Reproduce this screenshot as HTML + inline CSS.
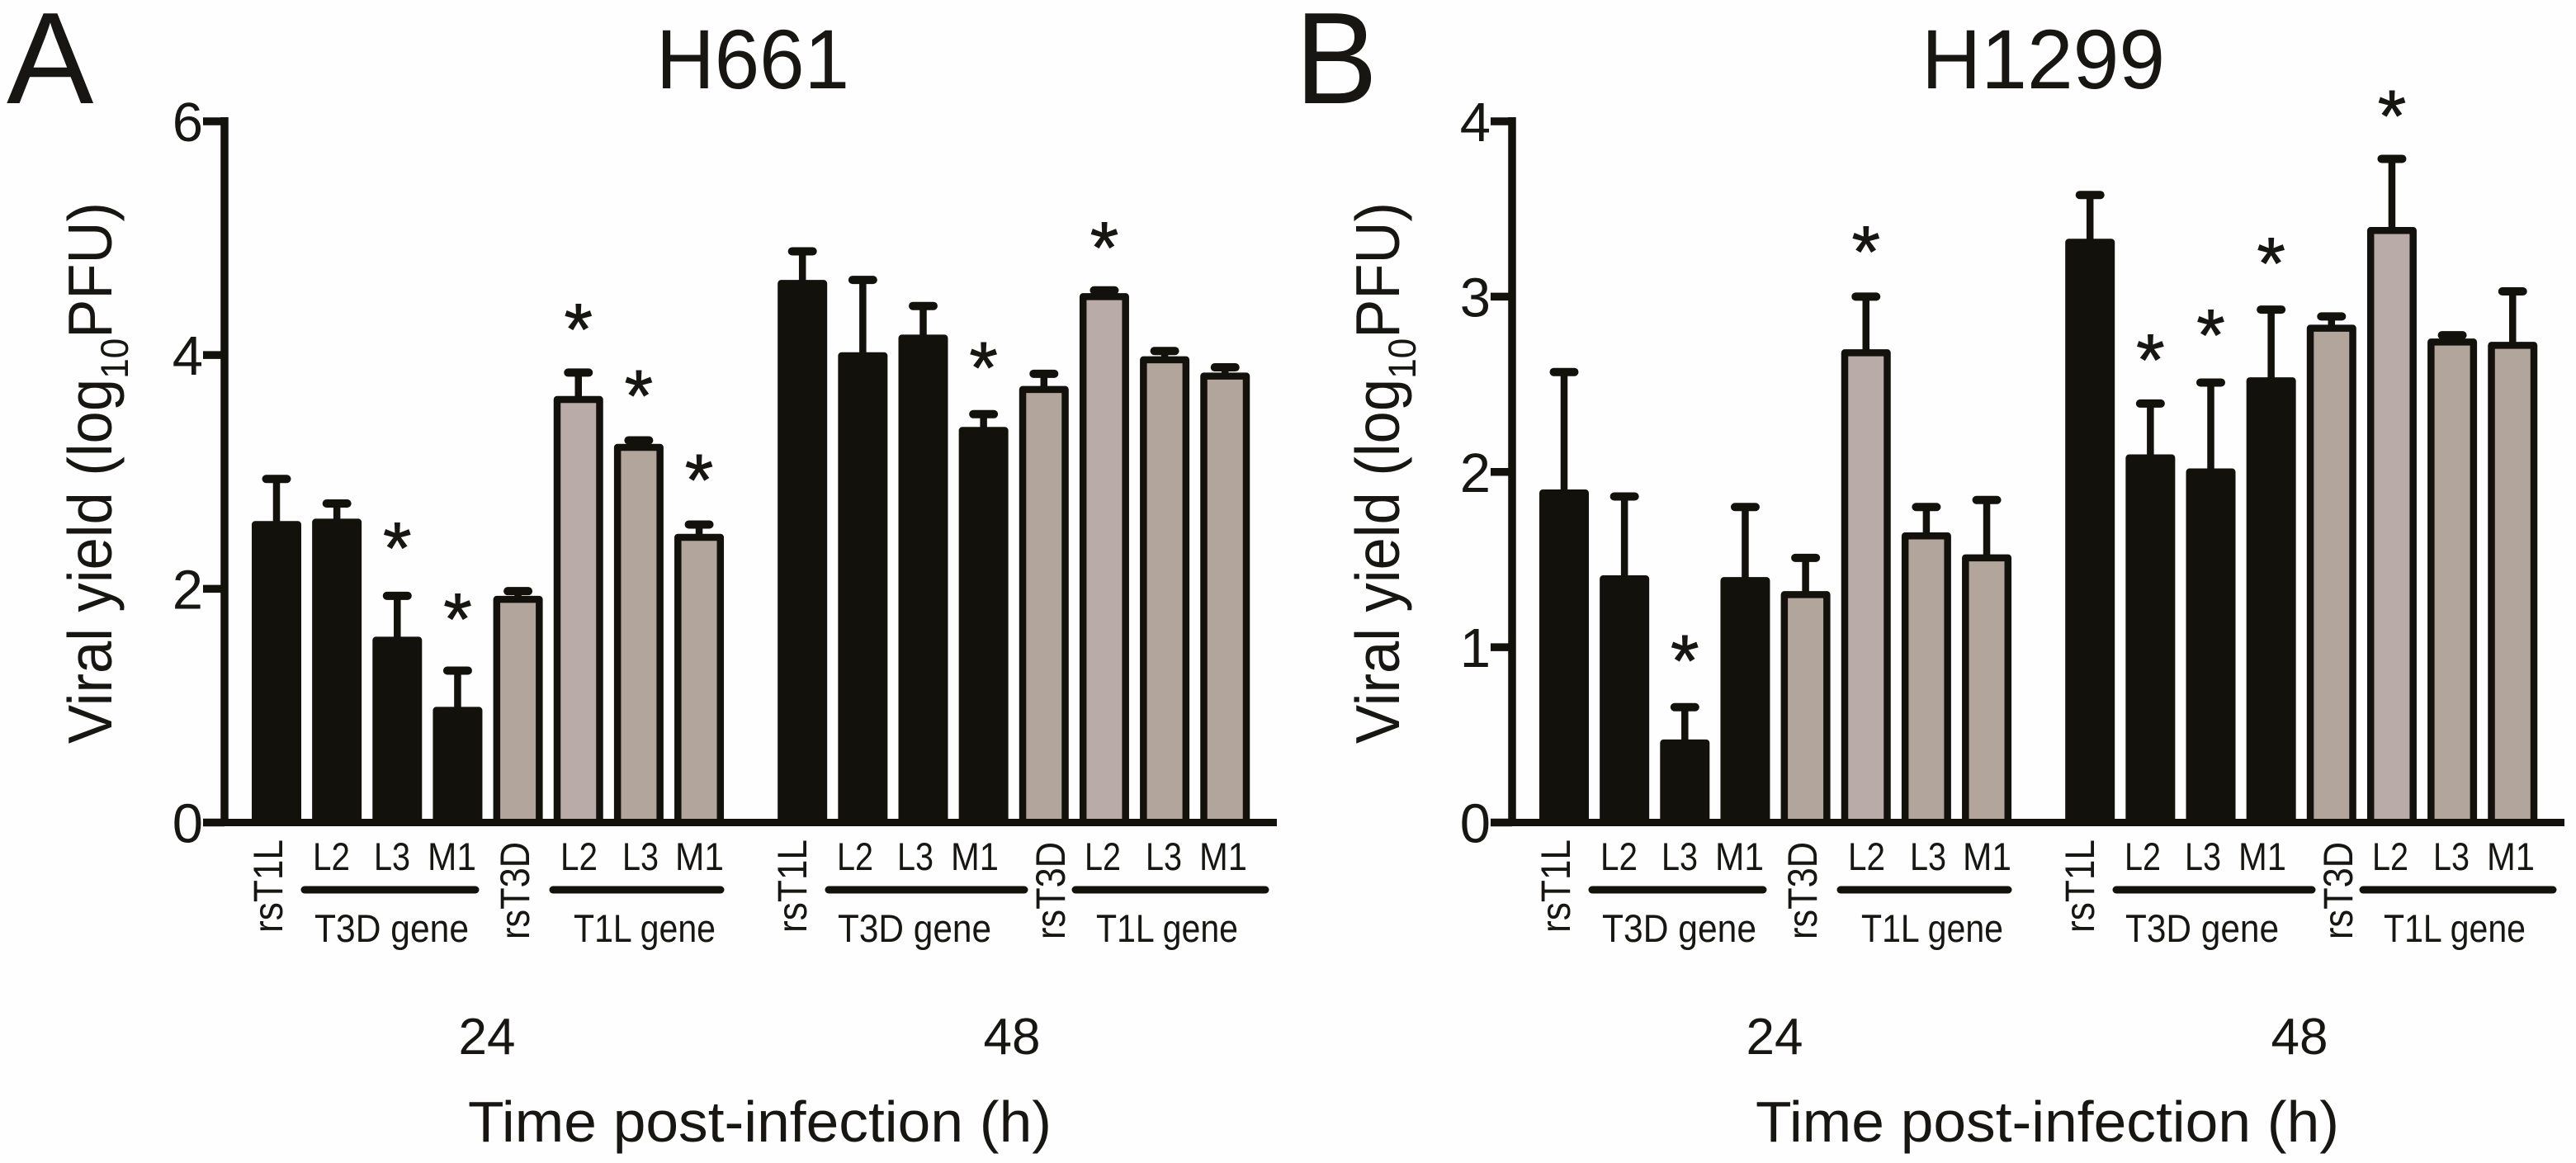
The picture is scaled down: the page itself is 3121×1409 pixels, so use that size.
<!DOCTYPE html>
<html lang="en">
<head>
<meta charset="utf-8">
<title>Viral yield H661 and H1299</title>
<style>
html,body{margin:0;padding:0;background:#fefefe;}
svg{display:block;font-family:"Liberation Sans",sans-serif;fill:#171612;}
</style>
</head>
<body>
<svg id="figure" xmlns="http://www.w3.org/2000/svg" width="3121" height="1409" viewBox="0 0 3121 1409">
  <rect x="0" y="0" width="3121" height="1409" fill="#fefefe"/>

  <text x="8" y="125" font-size="158">A</text>
  <text x="1569" y="125" font-size="158" textLength="100" lengthAdjust="spacingAndGlyphs">B</text>
  <text x="795" y="107" font-size="102" textLength="234" lengthAdjust="spacingAndGlyphs">H661</text>
  <text x="2328" y="107" font-size="102" textLength="295" lengthAdjust="spacingAndGlyphs">H1299</text>

  <g id="panel-a"></g>
  <g id="panel-b"></g>

  <g>
    <text transform="translate(135 901) rotate(-90)" font-size="75" textLength="656" lengthAdjust="spacingAndGlyphs">Viral yield (log<tspan font-size="47" dy="20">10</tspan><tspan dy="-20">PFU)</tspan></text>
    <text transform="translate(342 1130) rotate(-90)" font-size="50" textLength="113" lengthAdjust="spacingAndGlyphs">rsT1L</text>
    <text transform="translate(641 1138) rotate(-90)" font-size="50" textLength="118" lengthAdjust="spacingAndGlyphs">rsT3D</text>
    <text transform="translate(977 1130) rotate(-90)" font-size="50" textLength="113" lengthAdjust="spacingAndGlyphs">rsT1L</text>
    <text transform="translate(1290 1138) rotate(-90)" font-size="50" textLength="118" lengthAdjust="spacingAndGlyphs">rsT3D</text>
    <g font-size="47">
      <text x="379" y="1054" textLength="45" lengthAdjust="spacingAndGlyphs">L2</text>
      <text x="453" y="1054" textLength="44" lengthAdjust="spacingAndGlyphs">L3</text>
      <text x="518" y="1054" textLength="59" lengthAdjust="spacingAndGlyphs">M1</text>
      <text x="679" y="1054" textLength="45" lengthAdjust="spacingAndGlyphs">L2</text>
      <text x="754" y="1054" textLength="44" lengthAdjust="spacingAndGlyphs">L3</text>
      <text x="818" y="1054" textLength="59" lengthAdjust="spacingAndGlyphs">M1</text>
      <text x="1014" y="1054" textLength="44" lengthAdjust="spacingAndGlyphs">L2</text>
      <text x="1087" y="1054" textLength="44" lengthAdjust="spacingAndGlyphs">L3</text>
      <text x="1152" y="1054" textLength="58" lengthAdjust="spacingAndGlyphs">M1</text>
      <text x="1314" y="1054" textLength="44" lengthAdjust="spacingAndGlyphs">L2</text>
      <text x="1388" y="1054" textLength="44" lengthAdjust="spacingAndGlyphs">L3</text>
      <text x="1453" y="1054" textLength="58" lengthAdjust="spacingAndGlyphs">M1</text>
      <text x="381" y="1141" textLength="187" lengthAdjust="spacingAndGlyphs">T3D gene</text>
      <text x="695" y="1141" textLength="172" lengthAdjust="spacingAndGlyphs">T1L gene</text>
      <text x="1015" y="1141" textLength="186" lengthAdjust="spacingAndGlyphs">T3D gene</text>
      <text x="1328" y="1141" textLength="172" lengthAdjust="spacingAndGlyphs">T1L gene</text>
    </g>
    <g stroke="#12110c" stroke-width="9" stroke-linecap="round">
      <line x1="369" y1="1078" x2="576" y2="1078"/>
      <line x1="670" y1="1078" x2="873" y2="1078"/>
      <line x1="1004" y1="1078" x2="1241" y2="1078"/>
      <line x1="1303" y1="1078" x2="1533" y2="1078"/>
    </g>
    <text x="590" y="1277" font-size="62" text-anchor="middle">24</text>
    <text x="1226" y="1277" font-size="62" text-anchor="middle">48</text>
    <text x="567" y="1383" font-size="70" textLength="707" lengthAdjust="spacingAndGlyphs">Time post-infection (h)</text>
  </g>

  <g transform="translate(1560 0)">
    <text transform="translate(135 901) rotate(-90)" font-size="75" textLength="656" lengthAdjust="spacingAndGlyphs">Viral yield (log<tspan font-size="47" dy="20">10</tspan><tspan dy="-20">PFU)</tspan></text>
    <text transform="translate(342 1130) rotate(-90)" font-size="50" textLength="113" lengthAdjust="spacingAndGlyphs">rsT1L</text>
    <text transform="translate(641 1138) rotate(-90)" font-size="50" textLength="118" lengthAdjust="spacingAndGlyphs">rsT3D</text>
    <text transform="translate(977 1130) rotate(-90)" font-size="50" textLength="113" lengthAdjust="spacingAndGlyphs">rsT1L</text>
    <text transform="translate(1290 1138) rotate(-90)" font-size="50" textLength="118" lengthAdjust="spacingAndGlyphs">rsT3D</text>
    <g font-size="47">
      <text x="379" y="1054" textLength="45" lengthAdjust="spacingAndGlyphs">L2</text>
      <text x="453" y="1054" textLength="44" lengthAdjust="spacingAndGlyphs">L3</text>
      <text x="518" y="1054" textLength="59" lengthAdjust="spacingAndGlyphs">M1</text>
      <text x="679" y="1054" textLength="45" lengthAdjust="spacingAndGlyphs">L2</text>
      <text x="754" y="1054" textLength="44" lengthAdjust="spacingAndGlyphs">L3</text>
      <text x="818" y="1054" textLength="59" lengthAdjust="spacingAndGlyphs">M1</text>
      <text x="1014" y="1054" textLength="44" lengthAdjust="spacingAndGlyphs">L2</text>
      <text x="1087" y="1054" textLength="44" lengthAdjust="spacingAndGlyphs">L3</text>
      <text x="1152" y="1054" textLength="58" lengthAdjust="spacingAndGlyphs">M1</text>
      <text x="1314" y="1054" textLength="44" lengthAdjust="spacingAndGlyphs">L2</text>
      <text x="1388" y="1054" textLength="44" lengthAdjust="spacingAndGlyphs">L3</text>
      <text x="1453" y="1054" textLength="58" lengthAdjust="spacingAndGlyphs">M1</text>
      <text x="381" y="1141" textLength="187" lengthAdjust="spacingAndGlyphs">T3D gene</text>
      <text x="695" y="1141" textLength="172" lengthAdjust="spacingAndGlyphs">T1L gene</text>
      <text x="1015" y="1141" textLength="186" lengthAdjust="spacingAndGlyphs">T3D gene</text>
      <text x="1328" y="1141" textLength="172" lengthAdjust="spacingAndGlyphs">T1L gene</text>
    </g>
    <g stroke="#12110c" stroke-width="9" stroke-linecap="round">
      <line x1="369" y1="1078" x2="576" y2="1078"/>
      <line x1="670" y1="1078" x2="873" y2="1078"/>
      <line x1="1004" y1="1078" x2="1241" y2="1078"/>
      <line x1="1303" y1="1078" x2="1533" y2="1078"/>
    </g>
    <text x="590" y="1277" font-size="62" text-anchor="middle">24</text>
    <text x="1226" y="1277" font-size="62" text-anchor="middle">48</text>
    <text x="567" y="1383" font-size="70" textLength="707" lengthAdjust="spacingAndGlyphs">Time post-infection (h)</text>
  </g>
</svg>
<script>
// Data
var categories = ["rsT1L-24","T3D-L2-24","T3D-L3-24","T3D-M1-24","rsT3D-24","T1L-L2-24","T1L-L3-24","T1L-M1-24",
                  "rsT1L-48","T3D-L2-48","T3D-L3-48","T3D-M1-48","rsT3D-48","T1L-L2-48","T1L-L3-48","T1L-M1-48"];
var backbones = ["T1L","T1L","T1L","T1L","T3D","T3D","T3D","T3D","T1L","T1L","T1L","T1L","T3D","T3D","T3D","T3D"];
var timepoints = [24,24,24,24,24,24,24,24,48,48,48,48,48,48,48,48];

var h661Values = [2.58,2.60,1.59,0.99,1.94,3.65,3.24,2.47,4.643,4.024,4.175,3.385,3.735,4.53,3.99,3.85];
var h661Upper  = [2.94,2.73,1.94,1.30,1.98,3.85,3.27,2.55,4.888,4.643,4.42,3.494,3.84,4.554,4.035,3.895];
var h661Ticks  = [0,2,4,6];
var h661StarBars   = [2,3,5,6,7,11,13];
var h661StarLevels = [2.468,1.86,4.34,3.77,3.05,4.013,5.04];

var h1299Values = [1.90,1.41,0.474,1.40,1.32,2.70,1.655,1.53,3.33,2.10,2.02,2.54,2.84,3.397,2.761,2.742];
var h1299Upper  = [2.57,1.86,0.658,1.80,1.51,3.00,1.80,1.84,3.58,2.39,2.51,2.926,2.887,3.786,2.78,3.03];
var h1299Ticks  = [0,1,2,3,4];
var h1299StarBars   = [2,5,9,10,11,13];
var h1299StarLevels = [1.004,3.335,2.72,2.86,3.27,4.11];

var SVG_NS = "http://www.w3.org/2000/svg";
var INK = "#12110c";

function make(tag, parent, attrs) {
  var node = document.createElementNS(SVG_NS, tag);
  for (var key in attrs) { node.setAttribute(key, attrs[key]); }
  parent.appendChild(node);
  return node;
}

function drawPanel(panelId, originX, values, upper, ticks, starBars, starLevels) {
  var panel = document.getElementById(panelId);
  var maxTick = ticks[ticks.length - 1];
  var yZero = 996.5, yTop = 147;
  var axisX = originX + 272;
  var yScale = function (v) { return yZero - v * (yZero - yTop) / maxTick; };
  var xScale = function (i) {
    return originX + 335 + i * 73.15 + (timepoints[i] === 48 ? 52 : 0);
  };

  values.forEach(function (v, i) {
    var cx = xScale(i);
    var stem = make("line", panel, { x1: cx, x2: cx, y1: yScale(v) + 4, y2: yScale(upper[i]), stroke: INK, "stroke-width": 8.5 });
    
    
    var cap = make("line", panel, { x1: cx - 12.5, x2: cx + 12.5, y1: yScale(upper[i]), y2: yScale(upper[i]), stroke: INK, "stroke-width": 10, "stroke-linecap": "round" });
    
    
    var fill = backbones[i] === "T1L" ? INK : (i === 5 || i === 13 ? "#b9aca8" : "#b2a59c");
    var bar = make("rect", panel, { x: cx - 25.75, width: 51.5, y: yScale(v) + 4.25, height: yZero - yScale(v) - 4.25, fill: fill, stroke: INK, "stroke-width": 8.5, "stroke-linejoin": "round" });
    
    
  });

  var yAxis = make("line", panel, { x1: axisX, x2: axisX, y1: yTop - 5, y2: yZero + 4.5, stroke: INK, "stroke-width": 9.5 });
  
  
  var xAxis = make("line", panel, { x1: axisX - 26, x2: originX + 1547, y1: yZero, y2: yZero, stroke: INK, "stroke-width": 9 });
  
  

  ticks.forEach(function (t) {
    var tick = make("line", panel, { x1: axisX - 26, x2: axisX, y1: yScale(t), y2: yScale(t), stroke: INK, "stroke-width": 9.5 });
    
    
    var label = make("text", panel, { x: axisX - 26, y: yScale(t) + 24, "font-size": 67, "text-anchor": "end" });
    label.textContent = String(t);
    
    
  });

  starBars.forEach(function (barIndex, k) {
    var star = make("text", panel, { x: xScale(barIndex), y: yScale(starLevels[k]) + 47, "font-size": 88, "text-anchor": "middle", stroke: "#171612", "stroke-width": 1 });
    star.textContent = "*";
    
    
  });
}

drawPanel("panel-a", 0, h661Values, h661Upper, h661Ticks, h661StarBars, h661StarLevels);
drawPanel("panel-b", 1560, h1299Values, h1299Upper, h1299Ticks, h1299StarBars, h1299StarLevels);
</script>
</body>
</html>
